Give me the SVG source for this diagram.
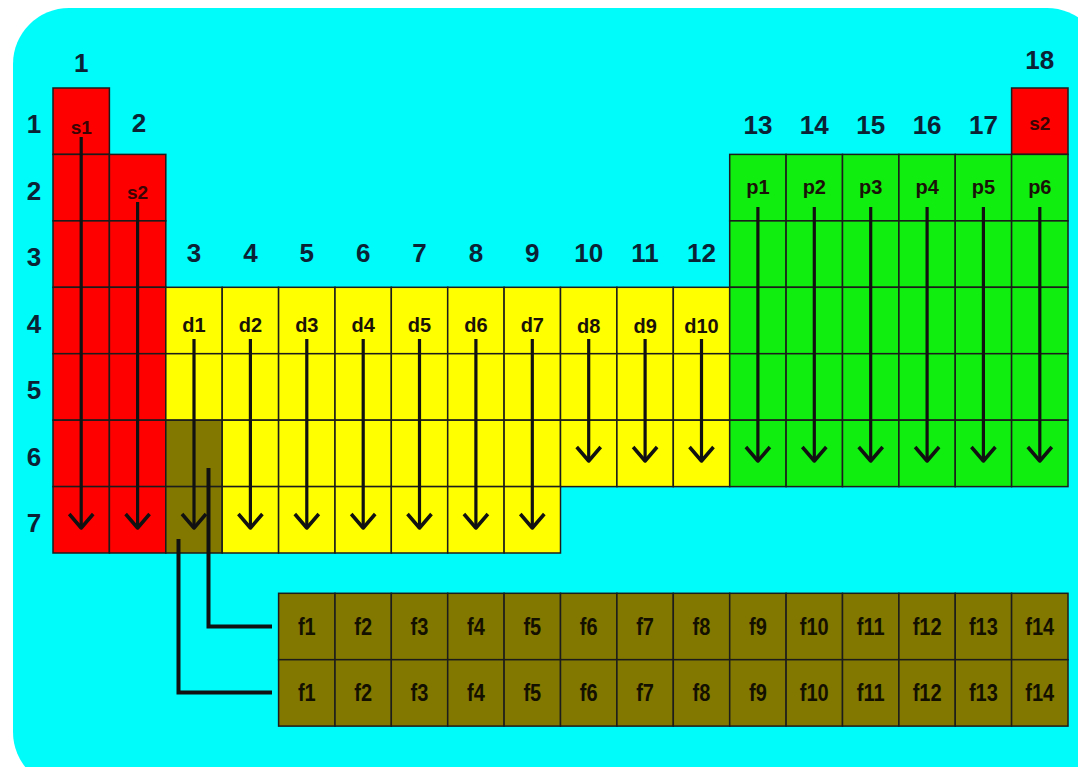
<svg xmlns="http://www.w3.org/2000/svg" width="1078" height="767" viewBox="0 0 1078 767">
<defs>
<style>
.bg{fill:#00FBFB}
.c{stroke:#1c1c1c;stroke-width:1.5}
.s{fill:#FF0000}
.d{fill:#FFFF00}
.p{fill:#10EE10}
.f{fill:#827800}
.num{font-family:"Liberation Sans",Arial,sans-serif;font-weight:bold;font-size:26px;fill:#0b2235;text-anchor:middle}
.lab{font-family:"Liberation Sans",Arial,sans-serif;font-weight:bold;font-size:20px;fill:#1a1208;text-anchor:middle}
.sl{fill:#3a0404;font-size:19px}
.fl{font-family:"Liberation Sans",Arial,sans-serif;font-weight:bold;font-size:20px;fill:#141000;text-anchor:middle}
.arr{stroke:#111;stroke-width:3.2;fill:none;marker-end:url(#chev)}
.con{stroke:#111;stroke-width:4;fill:none}
</style>
<marker id="chev" markerUnits="userSpaceOnUse" viewBox="-16 -14 18 28" refX="0" refY="0" markerWidth="18" markerHeight="28" orient="auto" overflow="visible">
<path d="M-14,-12 L0,0 L-14,12" fill="none" stroke="#111" stroke-width="3.5" stroke-linejoin="round"/>
</marker>
</defs>
<rect class="bg" x="13" y="8" width="1090" height="780" rx="56" ry="56"/>

<g id="s-block">
<rect class="c s" x="53" y="88" width="56.4" height="66.4"/>
<rect class="c s" x="53" y="154.4" width="56.4" height="66.4"/>
<rect class="c s" x="53" y="220.9" width="56.4" height="66.4"/>
<rect class="c s" x="53" y="287.3" width="56.4" height="66.4"/>
<rect class="c s" x="53" y="353.7" width="56.4" height="66.4"/>
<rect class="c s" x="53" y="420.2" width="56.4" height="66.4"/>
<rect class="c s" x="53" y="486.6" width="56.4" height="66.4"/>
<rect class="c s" x="109.4" y="154.4" width="56.4" height="66.4"/>
<rect class="c s" x="109.4" y="220.9" width="56.4" height="66.4"/>
<rect class="c s" x="109.4" y="287.3" width="56.4" height="66.4"/>
<rect class="c s" x="109.4" y="353.7" width="56.4" height="66.4"/>
<rect class="c s" x="109.4" y="420.2" width="56.4" height="66.4"/>
<rect class="c s" x="109.4" y="486.6" width="56.4" height="66.4"/>
<rect class="c s" x="1011.6" y="88" width="56.4" height="66.4"/>
<text class="lab sl" x="81.2" y="134">s1</text>
<text class="lab sl" x="137.6" y="199">s2</text>
<text class="lab sl" x="1039.8" y="130">s2</text>
</g>

<g id="d-block">
<rect class="c d" x="165.8" y="287.3" width="56.4" height="66.4"/>
<rect class="c d" x="222.2" y="287.3" width="56.4" height="66.4"/>
<rect class="c d" x="278.6" y="287.3" width="56.4" height="66.4"/>
<rect class="c d" x="335" y="287.3" width="56.4" height="66.4"/>
<rect class="c d" x="391.3" y="287.3" width="56.4" height="66.4"/>
<rect class="c d" x="447.7" y="287.3" width="56.4" height="66.4"/>
<rect class="c d" x="504.1" y="287.3" width="56.4" height="66.4"/>
<rect class="c d" x="560.5" y="287.3" width="56.4" height="66.4"/>
<rect class="c d" x="616.9" y="287.3" width="56.4" height="66.4"/>
<rect class="c d" x="673.3" y="287.3" width="56.4" height="66.4"/>
<rect class="c d" x="165.8" y="353.7" width="56.4" height="66.4"/>
<rect class="c d" x="222.2" y="353.7" width="56.4" height="66.4"/>
<rect class="c d" x="278.6" y="353.7" width="56.4" height="66.4"/>
<rect class="c d" x="335" y="353.7" width="56.4" height="66.4"/>
<rect class="c d" x="391.3" y="353.7" width="56.4" height="66.4"/>
<rect class="c d" x="447.7" y="353.7" width="56.4" height="66.4"/>
<rect class="c d" x="504.1" y="353.7" width="56.4" height="66.4"/>
<rect class="c d" x="560.5" y="353.7" width="56.4" height="66.4"/>
<rect class="c d" x="616.9" y="353.7" width="56.4" height="66.4"/>
<rect class="c d" x="673.3" y="353.7" width="56.4" height="66.4"/>
<rect class="c f" x="165.8" y="420.2" width="56.4" height="66.4"/>
<rect class="c d" x="222.2" y="420.2" width="56.4" height="66.4"/>
<rect class="c d" x="278.6" y="420.2" width="56.4" height="66.4"/>
<rect class="c d" x="335" y="420.2" width="56.4" height="66.4"/>
<rect class="c d" x="391.3" y="420.2" width="56.4" height="66.4"/>
<rect class="c d" x="447.7" y="420.2" width="56.4" height="66.4"/>
<rect class="c d" x="504.1" y="420.2" width="56.4" height="66.4"/>
<rect class="c d" x="560.5" y="420.2" width="56.4" height="66.4"/>
<rect class="c d" x="616.9" y="420.2" width="56.4" height="66.4"/>
<rect class="c d" x="673.3" y="420.2" width="56.4" height="66.4"/>
<rect class="c f" x="165.8" y="486.6" width="56.4" height="66.4"/>
<rect class="c d" x="222.2" y="486.6" width="56.4" height="66.4"/>
<rect class="c d" x="278.6" y="486.6" width="56.4" height="66.4"/>
<rect class="c d" x="335" y="486.6" width="56.4" height="66.4"/>
<rect class="c d" x="391.3" y="486.6" width="56.4" height="66.4"/>
<rect class="c d" x="447.7" y="486.6" width="56.4" height="66.4"/>
<rect class="c d" x="504.1" y="486.6" width="56.4" height="66.4"/>
<text class="lab" x="194" y="332">d1</text>
<text class="lab" x="250.4" y="332">d2</text>
<text class="lab" x="306.8" y="332">d3</text>
<text class="lab" x="363.2" y="332">d4</text>
<text class="lab" x="419.5" y="332">d5</text>
<text class="lab" x="475.9" y="332">d6</text>
<text class="lab" x="532.3" y="332">d7</text>
<text class="lab" x="588.7" y="333">d8</text>
<text class="lab" x="645.1" y="333">d9</text>
<text class="lab" x="701.5" y="333">d10</text>
</g>

<g id="p-block">
<rect class="c p" x="729.7" y="154.4" width="56.4" height="66.4"/>
<rect class="c p" x="786.1" y="154.4" width="56.4" height="66.4"/>
<rect class="c p" x="842.5" y="154.4" width="56.4" height="66.4"/>
<rect class="c p" x="898.9" y="154.4" width="56.4" height="66.4"/>
<rect class="c p" x="955.2" y="154.4" width="56.4" height="66.4"/>
<rect class="c p" x="1011.6" y="154.4" width="56.4" height="66.4"/>
<rect class="c p" x="729.7" y="220.9" width="56.4" height="66.4"/>
<rect class="c p" x="786.1" y="220.9" width="56.4" height="66.4"/>
<rect class="c p" x="842.5" y="220.9" width="56.4" height="66.4"/>
<rect class="c p" x="898.9" y="220.9" width="56.4" height="66.4"/>
<rect class="c p" x="955.2" y="220.9" width="56.4" height="66.4"/>
<rect class="c p" x="1011.6" y="220.9" width="56.4" height="66.4"/>
<rect class="c p" x="729.7" y="287.3" width="56.4" height="66.4"/>
<rect class="c p" x="786.1" y="287.3" width="56.4" height="66.4"/>
<rect class="c p" x="842.5" y="287.3" width="56.4" height="66.4"/>
<rect class="c p" x="898.9" y="287.3" width="56.4" height="66.4"/>
<rect class="c p" x="955.2" y="287.3" width="56.4" height="66.4"/>
<rect class="c p" x="1011.6" y="287.3" width="56.4" height="66.4"/>
<rect class="c p" x="729.7" y="353.7" width="56.4" height="66.4"/>
<rect class="c p" x="786.1" y="353.7" width="56.4" height="66.4"/>
<rect class="c p" x="842.5" y="353.7" width="56.4" height="66.4"/>
<rect class="c p" x="898.9" y="353.7" width="56.4" height="66.4"/>
<rect class="c p" x="955.2" y="353.7" width="56.4" height="66.4"/>
<rect class="c p" x="1011.6" y="353.7" width="56.4" height="66.4"/>
<rect class="c p" x="729.7" y="420.2" width="56.4" height="66.4"/>
<rect class="c p" x="786.1" y="420.2" width="56.4" height="66.4"/>
<rect class="c p" x="842.5" y="420.2" width="56.4" height="66.4"/>
<rect class="c p" x="898.9" y="420.2" width="56.4" height="66.4"/>
<rect class="c p" x="955.2" y="420.2" width="56.4" height="66.4"/>
<rect class="c p" x="1011.6" y="420.2" width="56.4" height="66.4"/>
<text class="lab" x="757.9" y="194">p1</text>
<text class="lab" x="814.3" y="194">p2</text>
<text class="lab" x="870.7" y="194">p3</text>
<text class="lab" x="927.1" y="194">p4</text>
<text class="lab" x="983.4" y="194">p5</text>
<text class="lab" x="1039.8" y="194">p6</text>
</g>

<g id="f-block">
<rect class="c f" x="278.6" y="593.3" width="56.4" height="66.4"/>
<rect class="c f" x="335" y="593.3" width="56.4" height="66.4"/>
<rect class="c f" x="391.3" y="593.3" width="56.4" height="66.4"/>
<rect class="c f" x="447.7" y="593.3" width="56.4" height="66.4"/>
<rect class="c f" x="504.1" y="593.3" width="56.4" height="66.4"/>
<rect class="c f" x="560.5" y="593.3" width="56.4" height="66.4"/>
<rect class="c f" x="616.9" y="593.3" width="56.4" height="66.4"/>
<rect class="c f" x="673.3" y="593.3" width="56.4" height="66.4"/>
<rect class="c f" x="729.7" y="593.3" width="56.4" height="66.4"/>
<rect class="c f" x="786.1" y="593.3" width="56.4" height="66.4"/>
<rect class="c f" x="842.5" y="593.3" width="56.4" height="66.4"/>
<rect class="c f" x="898.9" y="593.3" width="56.4" height="66.4"/>
<rect class="c f" x="955.2" y="593.3" width="56.4" height="66.4"/>
<rect class="c f" x="1011.6" y="593.3" width="56.4" height="66.4"/>
<rect class="c f" x="278.6" y="659.7" width="56.4" height="66.4"/>
<rect class="c f" x="335" y="659.7" width="56.4" height="66.4"/>
<rect class="c f" x="391.3" y="659.7" width="56.4" height="66.4"/>
<rect class="c f" x="447.7" y="659.7" width="56.4" height="66.4"/>
<rect class="c f" x="504.1" y="659.7" width="56.4" height="66.4"/>
<rect class="c f" x="560.5" y="659.7" width="56.4" height="66.4"/>
<rect class="c f" x="616.9" y="659.7" width="56.4" height="66.4"/>
<rect class="c f" x="673.3" y="659.7" width="56.4" height="66.4"/>
<rect class="c f" x="729.7" y="659.7" width="56.4" height="66.4"/>
<rect class="c f" x="786.1" y="659.7" width="56.4" height="66.4"/>
<rect class="c f" x="842.5" y="659.7" width="56.4" height="66.4"/>
<rect class="c f" x="898.9" y="659.7" width="56.4" height="66.4"/>
<rect class="c f" x="955.2" y="659.7" width="56.4" height="66.4"/>
<rect class="c f" x="1011.6" y="659.7" width="56.4" height="66.4"/>
<g transform="translate(0,635) scale(1,1.2)">
<text class="fl" x="306.8" y="0">f1</text>
<text class="fl" x="363.2" y="0">f2</text>
<text class="fl" x="419.5" y="0">f3</text>
<text class="fl" x="475.9" y="0">f4</text>
<text class="fl" x="532.3" y="0">f5</text>
<text class="fl" x="588.7" y="0">f6</text>
<text class="fl" x="645.1" y="0">f7</text>
<text class="fl" x="701.5" y="0">f8</text>
<text class="fl" x="757.9" y="0">f9</text>
<text class="fl" x="814.3" y="0">f10</text>
<text class="fl" x="870.7" y="0">f11</text>
<text class="fl" x="927.1" y="0">f12</text>
<text class="fl" x="983.4" y="0">f13</text>
<text class="fl" x="1039.8" y="0">f14</text>
</g>
<g transform="translate(0,701) scale(1,1.2)">
<text class="fl" x="306.8" y="0">f1</text>
<text class="fl" x="363.2" y="0">f2</text>
<text class="fl" x="419.5" y="0">f3</text>
<text class="fl" x="475.9" y="0">f4</text>
<text class="fl" x="532.3" y="0">f5</text>
<text class="fl" x="588.7" y="0">f6</text>
<text class="fl" x="645.1" y="0">f7</text>
<text class="fl" x="701.5" y="0">f8</text>
<text class="fl" x="757.9" y="0">f9</text>
<text class="fl" x="814.3" y="0">f10</text>
<text class="fl" x="870.7" y="0">f11</text>
<text class="fl" x="927.1" y="0">f12</text>
<text class="fl" x="983.4" y="0">f13</text>
<text class="fl" x="1039.8" y="0">f14</text>
</g>
</g>

<g id="group-numbers">
<text class="num" x="81.2" y="72">1</text>
<text class="num" x="139" y="132">2</text>
<text class="num" x="194" y="262">3</text>
<text class="num" x="250.4" y="262">4</text>
<text class="num" x="306.8" y="262">5</text>
<text class="num" x="363.2" y="262">6</text>
<text class="num" x="419.5" y="262">7</text>
<text class="num" x="475.9" y="262">8</text>
<text class="num" x="532.3" y="262">9</text>
<text class="num" x="588.7" y="262">10</text>
<text class="num" x="645.1" y="262">11</text>
<text class="num" x="701.5" y="262">12</text>
<text class="num" x="757.9" y="134">13</text>
<text class="num" x="814.3" y="134">14</text>
<text class="num" x="870.7" y="134">15</text>
<text class="num" x="927.1" y="134">16</text>
<text class="num" x="983.4" y="134">17</text>
<text class="num" x="1039.8" y="69">18</text>
</g>

<g id="period-numbers">
<text class="num" x="34" y="133">1</text>
<text class="num" x="34" y="200">2</text>
<text class="num" x="34" y="266">3</text>
<text class="num" x="34" y="333">4</text>
<text class="num" x="34" y="399">5</text>
<text class="num" x="34" y="466">6</text>
<text class="num" x="34" y="532">7</text>
</g>

<g id="connectors">
<line class="arr" x1="81.2" y1="137" x2="81.2" y2="528"/>
<line class="arr" x1="137.6" y1="202" x2="137.6" y2="528"/>
<line class="arr" x1="194" y1="339" x2="194" y2="528"/>
<line class="arr" x1="250.4" y1="339" x2="250.4" y2="528"/>
<line class="arr" x1="306.8" y1="339" x2="306.8" y2="528"/>
<line class="arr" x1="363.2" y1="339" x2="363.2" y2="528"/>
<line class="arr" x1="419.5" y1="339" x2="419.5" y2="528"/>
<line class="arr" x1="475.9" y1="339" x2="475.9" y2="528"/>
<line class="arr" x1="532.3" y1="339" x2="532.3" y2="528"/>
<line class="arr" x1="588.7" y1="339" x2="588.7" y2="461"/>
<line class="arr" x1="645.1" y1="339" x2="645.1" y2="461"/>
<line class="arr" x1="701.5" y1="339" x2="701.5" y2="461"/>
<line class="arr" x1="757.9" y1="207" x2="757.9" y2="461"/>
<line class="arr" x1="814.3" y1="207" x2="814.3" y2="461"/>
<line class="arr" x1="870.7" y1="207" x2="870.7" y2="461"/>
<line class="arr" x1="927.1" y1="207" x2="927.1" y2="461"/>
<line class="arr" x1="983.4" y1="207" x2="983.4" y2="461"/>
<line class="arr" x1="1039.8" y1="207" x2="1039.8" y2="461"/>
<polyline class="con" points="208.5,468 208.5,626.5 272,626.5"/>
<polyline class="con" points="178.5,539 178.5,692.5 272,692.5"/>
</g>
</svg>
